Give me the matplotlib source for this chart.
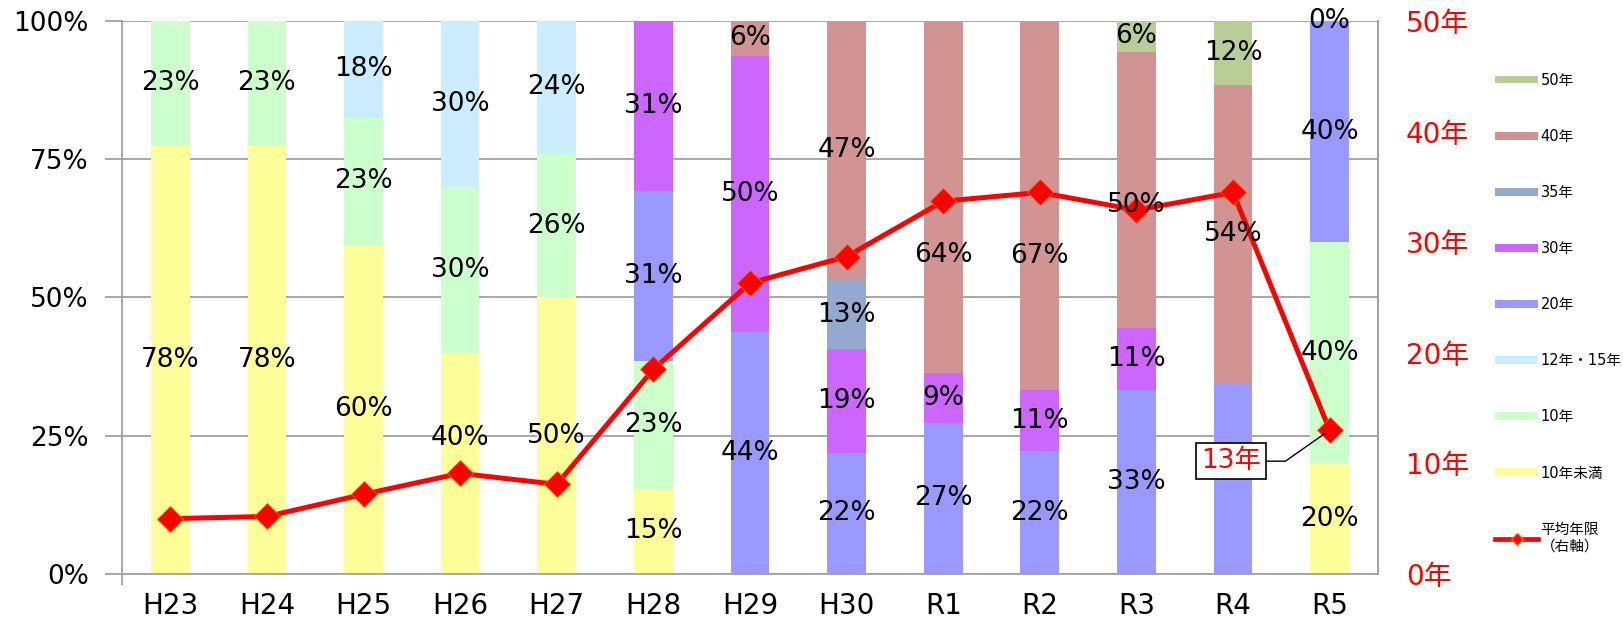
# Import libraries
import matplotlib
matplotlib.use("Agg")
import matplotlib.pyplot as plt
from matplotlib.patches import Patch
from matplotlib.lines import Line2D

# Fonts: DejaVu for latin, Noto CJK for 年 etc.
plt.rcParams['font.family'] = ['DejaVu Sans', 'Noto Sans CJK JP']

# Data (percent share per category, stacked bottom to top)
categories = ['H23', 'H24', 'H25', 'H26', 'H27', 'H28', 'H29', 'H30', 'R1', 'R2', 'R3', 'R4', 'R5']
under_10 = [77.5, 77.5, 59.5, 40, 50, 15.4, 0, 0, 0, 0, 0, 0, 20]
years_10 = [22.5, 22.5, 23, 30, 26, 23.1, 0, 0, 0, 0, 0, 0, 40]
years_12_15 = [0, 0, 17.5, 30, 24, 0, 0, 0, 0, 0, 0, 0, 0]
years_20 = [0, 0, 0, 0, 0, 30.8, 43.75, 21.9, 27.3, 22.2, 33.3, 34.6, 40]
years_30 = [0, 0, 0, 0, 0, 30.8, 50, 18.75, 9.1, 11.1, 11.1, 0, 0]
years_35 = [0, 0, 0, 0, 0, 0, 0, 12.5, 0, 0, 0, 0, 0]
years_40 = [0, 0, 0, 0, 0, 0, 6.25, 46.9, 63.6, 66.7, 50, 53.8, 0]
years_50 = [0, 0, 0, 0, 0, 0, 0, 0, 0, 0, 5.6, 11.6, 0]

# Average service life (right axis, years)
avg_years = [5.0, 5.2, 7.2, 9.1, 8.1, 18.5, 26.3, 28.7, 33.7, 34.5, 32.9, 34.5, 13.0]

series_names = ['10年未満', '10年', '12年・15年', '20年', '30年', '35年', '40年', '50年']
series_values = [under_10, years_10, years_12_15, years_20, years_30, years_35, years_40, years_50]
series_colors = ['#FFFF99', '#CCFFCC', '#CCECFF', '#9999FF', '#CC66FF', '#93A9D0', '#D29393', '#B9CD96']

# Labels that are hidden / zero labels that are shown / labels moved off the line
hidden_labels = [('20年', 'R4')]
zero_labels = [('50年', 'R5')]
moved_labels = {('10年未満', 'H26'): 24.6, ('40年', 'R1'): 57.7,
                ('40年', 'R2'): 57.5, ('40年', 'R3'): 66.7}

# Create the figure
fig = plt.figure(figsize=(16.24, 6.23), dpi=100)
ax = fig.add_axes([0.0751, 0.0787, 0.7734, 0.8876])
ax2 = ax.twinx()

x = list(range(len(categories)))
bottoms = [0.0] * len(categories)
label_items = []
for name, values, color in zip(series_names, series_values, series_colors):
    ax.bar(x, values, width=0.4, bottom=bottoms, color=color, zorder=2)
    for i, v in enumerate(values):
        key = (name, categories[i])
        show = v > 0 and key not in hidden_labels
        if key in zero_labels:
            show = True
        if show:
            y = moved_labels.get(key, bottoms[i] + v / 2)
            label_items.append((i, y, "%d%%" % int(v + 0.5)))
    bottoms = [b + v for b, v in zip(bottoms, values)]

# Left axis styling
ax.set_xlim(-0.5, len(categories) - 0.5)
ax.set_ylim(0, 100)
ax.set_yticks([0, 25, 50, 75, 100])
ax.set_yticklabels(['0%', '25%', '50%', '75%', '100%'], fontsize=19)
ax.yaxis.grid(True, color='#A0A0A0', linewidth=1.3, zorder=0)
ax.set_axisbelow(True)
ax.tick_params(axis='y', length=12, color='#A0A0A0', width=1.3, pad=12)
ax.set_xticks(x)
ax.set_xticklabels(categories, fontsize=20)
ax.tick_params(axis='x', which='major', length=0, pad=13)
ax.set_xticks([-0.5], minor=True)
ax.tick_params(axis='x', which='minor', length=8, color='#A0A0A0', width=1.3)
for side in ['left', 'bottom', 'right']:
    ax.spines[side].set_color('#A0A0A0')
    ax.spines[side].set_linewidth(1.3)
ax.spines['top'].set_visible(False)

# Right axis with average years line
ax2.plot(x, avg_years, color='#FF0000', linewidth=3.6, marker='D', markersize=13,
         markeredgecolor='#FF6600', markeredgewidth=0.6, zorder=3)
ax2.set_ylim(0, 50)
ax2.set_yticks([0, 10, 20, 30, 40, 50])
ax2.set_yticklabels(["%d年" % v for v in [0, 10, 20, 30, 40, 50]], fontsize=20, color='#FF0000')
ax2.tick_params(axis='y', length=0, pad=20)
for side in ['left', 'bottom', 'top']:
    ax2.spines[side].set_visible(False)
ax2.spines['right'].set_color('#A0A0A0')
ax2.spines['right'].set_linewidth(1.3)

# Percent labels drawn above the line
for i, y, txt in label_items:
    ax2.text(i, y, txt, transform=ax.transData, ha='center', va='center',
             fontsize=19, color='black', zorder=5)

# Callout for the latest average
last = len(categories) - 1
ax2.annotate("%d年" % round(avg_years[last]), xy=(last, avg_years[last]), xytext=(last - 1.02, 10.2),
             fontsize=19, color='#FF0000', ha='center', va='center', zorder=6,
             bbox=dict(boxstyle='square,pad=0.2', fc='white', ec='black', lw=1.2),
             arrowprops=dict(arrowstyle='-', color='black', lw=1, shrinkA=0, shrinkB=4,
                             connectionstyle='angle,angleA=0,angleB=35,rad=0'))

# Legend
handles = [Patch(facecolor=c) for c in series_colors[::-1]]
handles.append(Line2D([0], [0], color='#FF0000', linewidth=3.4, marker='D', markersize=6,
                      markeredgecolor='#FF6600'))
labels = series_names[::-1] + ['平均年限\n（右軸）']
fig.legend(handles, labels, loc='upper left', bbox_to_anchor=(0.919, 0.888), frameon=False,
           fontsize=10.5, handlelength=2.9, handleheight=0.45, labelspacing=2.82,
           handletextpad=0.2, borderaxespad=0, borderpad=0.2)

# Save the plot as a PNG file
plt.savefig("out.png", format="png", dpi=100)
